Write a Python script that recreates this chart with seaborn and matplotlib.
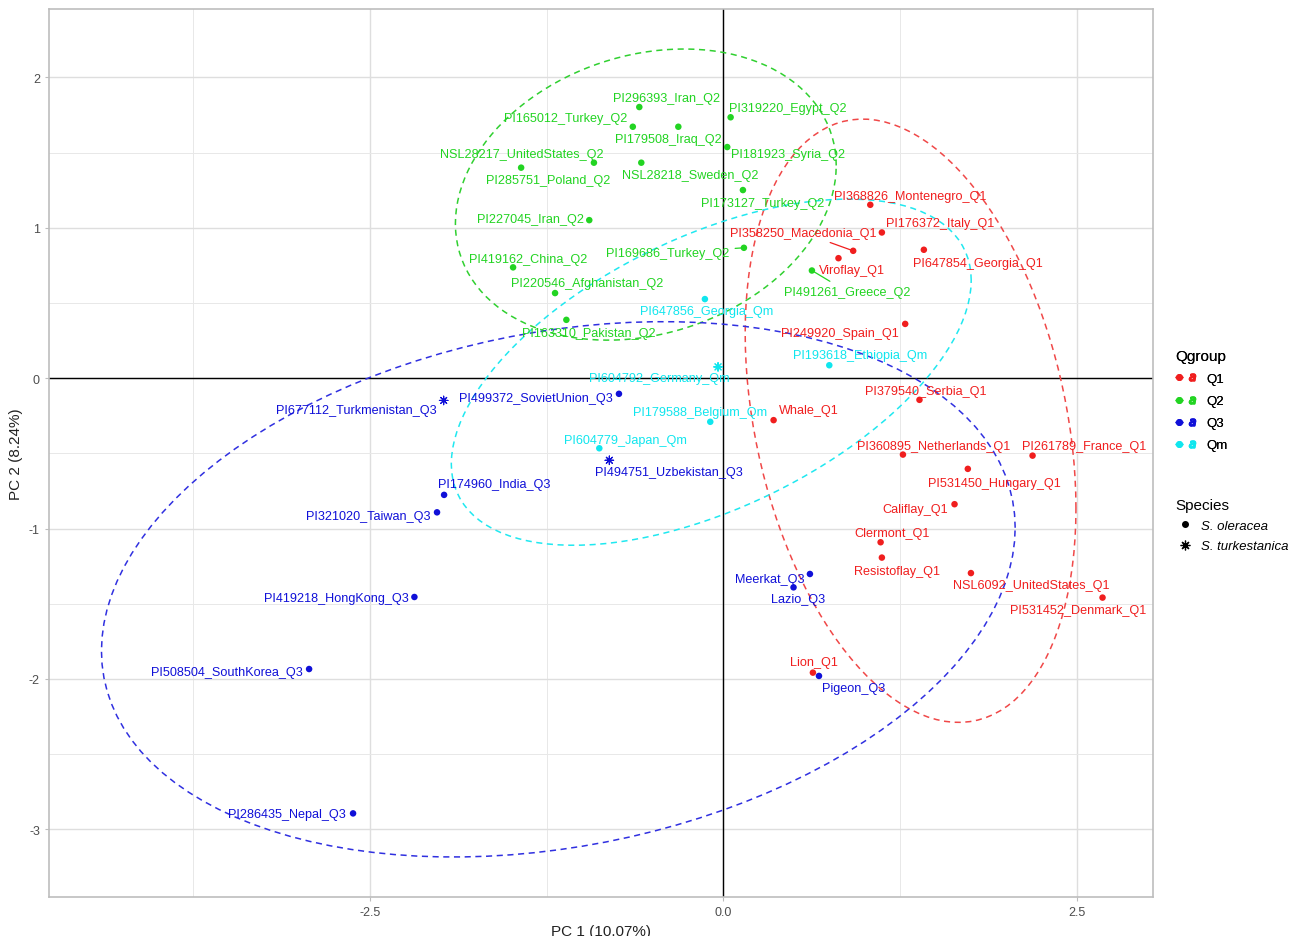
import numpy as np
import pandas as pd
import matplotlib
matplotlib.use('Agg')
import matplotlib.pyplot as plt
import seaborn as sns
from matplotlib.lines import Line2D
from matplotlib.legend_handler import HandlerTuple

# data
q1_names = ['PI368826_Montenegro_Q1', 'PI176372_Italy_Q1', 'PI358250_Macedonia_Q1', 'Viroflay_Q1',
            'PI647854_Georgia_Q1', 'PI249920_Spain_Q1', 'PI379540_Serbia_Q1', 'Whale_Q1',
            'PI360895_Netherlands_Q1', 'PI261789_France_Q1', 'PI531450_Hungary_Q1', 'Califlay_Q1',
            'Clermont_Q1', 'Resistoflay_Q1', 'NSL6092_UnitedStates_Q1', 'PI531452_Denmark_Q1', 'Lion_Q1']
q1_pc1 = [1.04, 1.122, 0.919, 0.815, 1.419, 1.287, 1.388, 0.356, 1.271, 2.188, 1.73, 1.636,
          1.113, 1.122, 1.752, 2.683, 0.634]
q1_pc2 = [1.153, 0.969, 0.847, 0.798, 0.854, 0.361, -0.144, -0.279, -0.508, -0.515, -0.603, -0.838,
          -1.091, -1.193, -1.296, -1.459, -1.958]

q2_names = ['PI296393_Iran_Q2', 'PI165012_Turkey_Q2', 'PI179508_Iraq_Q2', 'PI319220_Egypt_Q2',
            'PI181923_Syria_Q2', 'NSL28217_UnitedStates_Q2', 'PI285751_Poland_Q2', 'NSL28218_Sweden_Q2',
            'PI173127_Turkey_Q2', 'PI227045_Iran_Q2', 'PI169686_Turkey_Q2', 'PI419162_China_Q2',
            'PI491261_Greece_Q2', 'PI220546_Afghanistan_Q2', 'PI163310_Pakistan_Q2']
q2_pc1 = [-0.594, -0.64, -0.318, 0.052, 0.028, -1.43, -0.915, -0.58, 0.139, -0.948, 0.146, -1.487,
          0.627, -1.19, -1.11]
q2_pc2 = [1.803, 1.672, 1.672, 1.735, 1.537, 1.40, 1.433, 1.433, 1.251, 1.051, 0.867, 0.737,
          0.716, 0.566, 0.388]

q3_names = ['PI499372_SovietUnion_Q3', 'PI494751_Uzbekistan_Q3', 'PI677112_Turkmenistan_Q3',
            'PI174960_India_Q3', 'PI321020_Taiwan_Q3', 'PI419218_HongKong_Q3', 'PI508504_SouthKorea_Q3',
            'PI286435_Nepal_Q3', 'Meerkat_Q3', 'Lazio_Q3', 'Pigeon_Q3']
q3_pc1 = [-0.738, -0.806, -1.978, -1.975, -2.025, -2.185, -2.93, -2.619, 0.613, 0.497, 0.677]
q3_pc2 = [-0.104, -0.546, -0.148, -0.776, -0.892, -1.455, -1.934, -2.894, -1.302, -1.391, -1.98]

qm_names = ['PI647856_Georgia_Qm', 'PI604792_Germany_Qm', 'PI179588_Belgium_Qm',
            'PI604779_Japan_Qm', 'PI193618_Ethiopia_Qm']
qm_pc1 = [-0.13, -0.037, -0.092, -0.877, 0.75]
qm_pc2 = [0.526, 0.075, -0.29, -0.466, 0.086]

turkestanica = ['PI604792_Germany_Qm', 'PI494751_Uzbekistan_Q3', 'PI677112_Turkmenistan_Q3']

# ellipse parameters (centre, half extents along x/y, correlation)
groups = ['Q1', 'Q2', 'Q3', 'Qm']
ell_cx = [1.325, -0.548, -1.167, -0.085]
ell_cy = [-0.283, 1.221, -1.404, 0.040]
ell_hx = [1.17, 1.347, 3.232, 1.839]
ell_hy = [2.006, 0.968, 1.78, 1.151]
ell_rho = [-0.29, 0.20, 0.23, 0.53]

# label offsets in pixels (dx, dy), like ggrepel placed them
label_offsets = {
    'PI296393_Iran_Q2': (27, 9), 'PI165012_Turkey_Q2': (-67, 9), 'PI179508_Iraq_Q2': (-10, -12),
    'PI319220_Egypt_Q2': (57, 9), 'PI181923_Syria_Q2': (61, -7), 'NSL28217_UnitedStates_Q2': (1, 14),
    'PI285751_Poland_Q2': (-46, -17), 'NSL28218_Sweden_Q2': (49, -12), 'PI173127_Turkey_Q2': (20, -13),
    'PI227045_Iran_Q2': (-59, 1), 'PI169686_Turkey_Q2': (-76, -5), 'PI419162_China_Q2': (15, 8),
    'PI491261_Greece_Q2': (35, -21), 'PI220546_Afghanistan_Q2': (32, 10), 'PI163310_Pakistan_Q2': (22, -13),
    'PI647856_Georgia_Qm': (2, -12), 'PI604792_Germany_Qm': (-59, -11), 'PI179588_Belgium_Qm': (-10, 10),
    'PI604779_Japan_Qm': (26, 8), 'PI193618_Ethiopia_Qm': (31, 10),
    'PI499372_SovietUnion_Q3': (-83, -4), 'PI494751_Uzbekistan_Q3': (60, -12),
    'PI677112_Turkmenistan_Q3': (-87, -10), 'PI174960_India_Q3': (50, 11), 'PI321020_Taiwan_Q3': (-69, -4),
    'PI419218_HongKong_Q3': (-78, -1), 'PI508504_SouthKorea_Q3': (-82, -3), 'PI286435_Nepal_Q3': (-66, -1),
    'Meerkat_Q3': (-40, -5), 'Lazio_Q3': (5, -12), 'Pigeon_Q3': (35, -12),
    'Lion_Q1': (1, 11), 'Clermont_Q1': (11, 9), 'Resistoflay_Q1': (15, -13), 'Califlay_Q1': (-39, -5),
    'PI531450_Hungary_Q1': (27, -14), 'PI360895_Netherlands_Q1': (31, 9), 'PI261789_France_Q1': (52, 10),
    'NSL6092_UnitedStates_Q1': (60, -12), 'PI531452_Denmark_Q1': (-24, -12), 'Whale_Q1': (35, 10),
    'PI379540_Serbia_Q1': (6, 9), 'PI249920_Spain_Q1': (-65, -9), 'PI647854_Georgia_Q1': (54, -13),
    'Viroflay_Q1': (13, -12), 'PI358250_Macedonia_Q1': (-50, 18), 'PI176372_Italy_Q1': (58, 9),
    'PI368826_Montenegro_Q1': (40, 9),
}
with_segment = ['PI358250_Macedonia_Q1', 'PI491261_Greece_Q2', 'PI169686_Turkey_Q2']

colors = {'Q1': '#F01E1E', 'Q2': '#22D422', 'Q3': '#1010D8', 'Qm': '#10E6EE'}
ell_colors = {'Q1': '#F04848', 'Q2': '#30D030', 'Q3': '#3030E0', 'Qm': '#20E8F0'}

frames = []
for g, nm, x, y in [('Q1', q1_names, q1_pc1, q1_pc2), ('Q2', q2_names, q2_pc1, q2_pc2),
                    ('Q3', q3_names, q3_pc1, q3_pc2), ('Qm', qm_names, qm_pc1, qm_pc2)]:
    frames.append(pd.DataFrame({'name': nm, 'PC1': x, 'PC2': y, 'Qgroup': g}))
df = pd.concat(frames, ignore_index=True)
df['Species'] = np.where(df['name'].isin(turkestanica), 'S. turkestanica', 'S. oleracea')


def ellipse_path(cx, cy, hx, hy, rho, segments=120):
    shape = np.array([[hx * hx, rho * hx * hy], [rho * hx * hy, hy * hy]])
    ang = np.linspace(0, 2 * np.pi, segments + 1)
    circ = np.column_stack([np.cos(ang), np.sin(ang)])
    return np.array([cx, cy]) + circ @ np.linalg.cholesky(shape).T


plt.rcParams['font.family'] = ['Liberation Sans', 'DejaVu Sans']
plt.rcParams['axes.unicode_minus'] = False
fig = plt.figure(figsize=(13.03, 9.37), dpi=100)
ax = fig.add_axes([49 / 1303, 1 - 898 / 937, (1153 - 49) / 1303, (898 - 10) / 937])
ax.set_facecolor('white')

ax.set_xlim(-4.77, 3.04)
ax.set_ylim(-3.45, 2.455)
ax.set_xticks([-2.5, 0, 2.5])
ax.set_xticklabels(['-2.5', '0.0', '2.5'])
ax.set_xticks([-3.75, -1.25, 1.25], minor=True)
ax.set_yticks([-3, -2, -1, 0, 1, 2])
ax.set_yticks([-2.5, -1.5, -0.5, 0.5, 1.5], minor=True)
ax.grid(which='major', color='#DEDEDE', lw=1.0, zorder=0)
ax.grid(which='minor', color='#E8E8E8', lw=0.7, zorder=0)
ax.set_axisbelow(True)
for s in ax.spines.values():
    s.set_color('#BDBDBD')
    s.set_linewidth(1.2)
ax.tick_params(which='major', length=3, color='#BDBDBD', labelsize=9, labelcolor='#4D4D4D')
ax.tick_params(which='minor', length=0)

ax.axhline(0, color='black', lw=1.0, zorder=1)
ax.axvline(0, color='black', lw=1.0, zorder=1)

for g, cx, cy, hx, hy, rho in zip(groups, ell_cx, ell_cy, ell_hx, ell_hy, ell_rho):
    e = ellipse_path(cx, cy, hx, hy, rho)
    ax.plot(e[:, 0], e[:, 1], ls=(0, (4, 3)), color=ell_colors[g], lw=1.1, zorder=2)

ole = df[df.Species == 'S. oleracea']
tur = df[df.Species == 'S. turkestanica']
sns.scatterplot(data=ole, x='PC1', y='PC2', hue='Qgroup', palette=colors, hue_order=groups,
                marker='o', s=22, linewidth=0, legend=False, ax=ax, zorder=4)
sns.scatterplot(data=tur, x='PC1', y='PC2', hue='Qgroup', palette=colors, hue_order=groups,
                marker=(8, 2, 0), s=38, linewidth=0.8, legend=False, ax=ax, zorder=4)

for _, r in df.iterrows():
    dx, dy = label_offsets[r['name']]
    kw = {}
    if r['name'] in with_segment:
        kw['arrowprops'] = dict(arrowstyle='-', color=colors[r.Qgroup], lw=0.9, shrinkA=2, shrinkB=0)
    ax.annotate(r['name'], (r.PC1, r.PC2), xytext=(dx, dy), textcoords='offset pixels',
                ha='center', va='center', fontsize=9.1, color=colors[r.Qgroup], zorder=5, **kw)

ax.set_xlabel('PC 1 (10.07%)', fontsize=11, color='#222222', labelpad=4)
ax.set_ylabel('PC 2 (8.24%)', fontsize=11, color='#222222', labelpad=4)

# legends
q_handles = [(Line2D([], [], ls=(0, (2, 2)), color=colors[g], marker='o', ms=4, lw=1),
              Line2D([], [], ls='none', marker='$a$', color=colors[g], ms=5)) for g in groups]
leg1 = fig.legend(q_handles, groups, title='Qgroup', loc='upper left', bbox_to_anchor=(1163 / 1303, 1 - 338 / 937),
                  frameon=False, fontsize=9.5, title_fontsize=11, handlelength=1.6, handletextpad=0.8,
                  labelspacing=0.75, alignment='left', handler_map={tuple: HandlerTuple(ndivide=None)})
sp_handles = [Line2D([], [], ls='none', marker='o', color='black', ms=4),
              Line2D([], [], ls='none', marker=(8, 2, 0), color='black', mec='black', ms=7, mew=0.9)]
fig.legend(sp_handles, ['S. oleracea', 'S. turkestanica'], title='Species', loc='upper left',
           bbox_to_anchor=(1163 / 1303, 1 - 487 / 937), frameon=False, title_fontsize=11,
           handlelength=1.6, handletextpad=0.4, labelspacing=0.6, alignment='left',
           prop={'style': 'italic', 'size': 9.5})
fig.add_artist(leg1)

fig.savefig('out.png', dpi=100)
